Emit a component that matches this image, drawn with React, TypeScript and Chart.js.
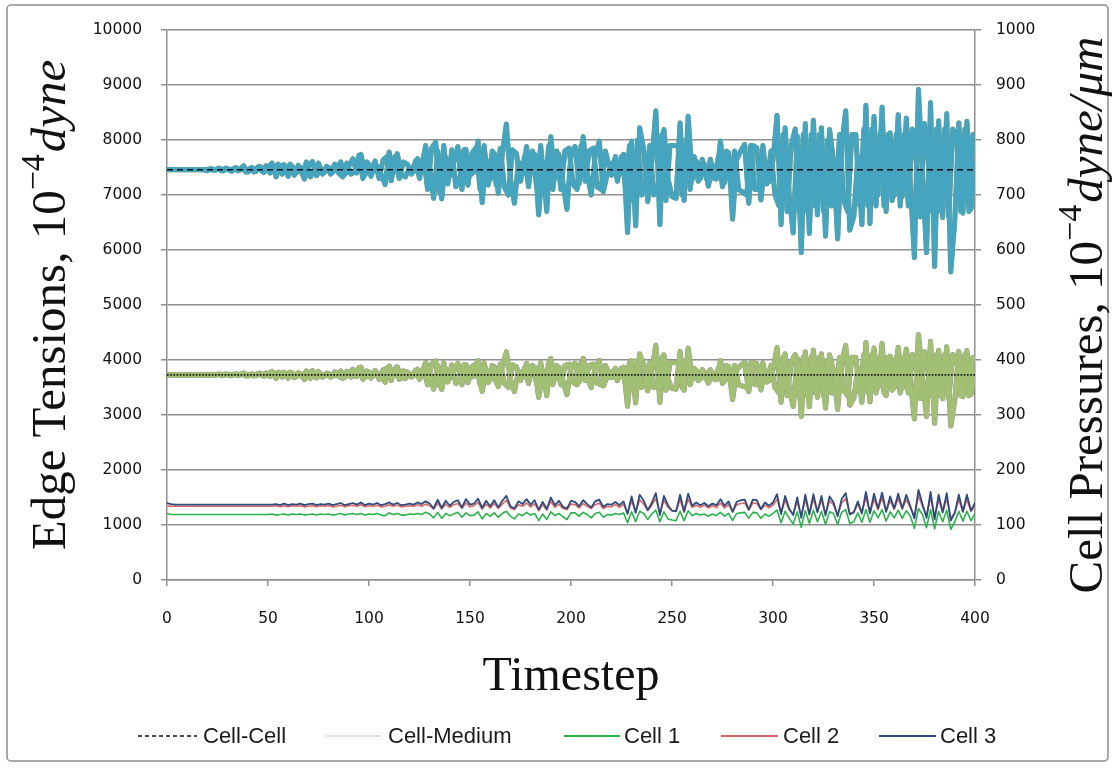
import React, { useEffect, useRef } from "react";
import { Chart, registerables } from "chart.js";

Chart.register(...registerables);

// ---- data ----
const TIMESTEPS: number[] = Array.from({ length: 201 }, (_, i) => i * 2); // 0,2,...,400
const TIMESTEPS_ODD: number[] = Array.from({ length: 200 }, (_, i) => i * 2 + 1); // 1,3,...,399
const X_MIN = 0;
const X_MAX = 400;
const X_STEP = 50;
const LEFT_MAX = 10000;
const LEFT_STEP = 1000;
const RIGHT_MAX = 1000;
const RIGHT_STEP = 100;

const CELL_CELL_LEVEL = 7460;
const CELL_MEDIUM_LEVEL = 3730;

// cell-cell edge tensions, even timesteps
const CELL_CELL_EDGES_A = [
  7460, 7460, 7460, 7460, 7460, 7460, 7460, 7460, 7460, 7460,
  7440, 7480, 7450, 7490, 7440, 7480, 7430, 7500, 7450, 7530,
  7420, 7500, 7430, 7520, 7410, 7500, 7580, 7330, 7520, 7550,
  7340, 7520, 7400, 7500, 7290, 7520, 7610, 7350, 7480, 7420,
  7500, 7410, 7480, 7600, 7370, 7520, 7660, 7400, 7740, 7360,
  7560, 7420, 7520, 7380, 7190, 7780, 7400, 7750, 7360, 7330,
  7500, 7420, 7660, 7460, 7900, 7500, 6940, 7800, 6930, 7680,
  7340, 7600, 7880, 7100, 7830, 7360, 7420, 7980, 6860, 7640,
  7280, 7760, 7030, 7740, 8290, 7300, 6850, 7600, 7380, 7880,
  7420, 7740, 6640, 7600, 6700, 8060, 7300, 7740, 7220, 6740,
  7750, 7880, 7200, 8060, 7400, 7000, 7720, 7980, 7060, 7400,
  7360, 7700, 7380, 7740, 6320, 7980, 6440, 8220, 7820, 6880,
  7600, 8530, 6460, 8190, 7300, 6970, 6940, 8310, 6900, 8430,
  7280, 7620, 7300, 7560, 7160, 7500, 7290, 7980, 7220, 7770,
  6560, 7640, 7800, 7920, 6850, 7900, 7860, 6910, 7590, 7240,
  7640, 8450, 6460, 8220, 7000, 6310, 8070, 5950, 8300, 6300,
  8360, 6640, 8220, 6250, 8190, 7600, 6200, 7900, 8530, 6360,
  6610, 7690, 6460, 8630, 6480, 8430, 7000, 8600, 6700, 8130,
  6990, 8460, 6970, 8400, 7200, 5860, 8920, 7400, 5950, 8680,
  5700, 8350, 6590, 8480, 5600, 6550, 8310, 6670, 8340, 6740,
  7580,
];

// cell-cell edge tensions, odd timesteps
const CELL_CELL_EDGES_B = [
  7460, 7460, 7460, 7460, 7460, 7460, 7460, 7460, 7460, 7460,
  7470, 7450, 7480, 7440, 7490, 7450, 7480, 7440, 7500, 7420,
  7480, 7420, 7510, 7430, 7530, 7400, 7470, 7560, 7380, 7470,
  7560, 7360, 7540, 7380, 7600, 7330, 7460, 7580, 7380, 7520,
  7380, 7560, 7400, 7330, 7580, 7380, 7420, 7720, 7300, 7600,
  7340, 7620, 7300, 7640, 7700, 7260, 7700, 7300, 7600, 7560,
  7380, 7620, 7300, 7700, 7100, 7850, 7960, 7050, 7900, 7200,
  7820, 7150, 7300, 7820, 7180, 7760, 7860, 7100, 7900, 7180,
  7800, 7180, 7850, 7150, 7000, 7820, 7750, 7250, 7700, 7150,
  7800, 7150, 7900, 7050, 7900, 7100, 7800, 7100, 7800, 7850,
  7200, 7100, 7900, 7250, 7800, 7850, 7150, 7100, 7800, 7500,
  7600, 7250, 7700, 7150, 7900, 6900, 8000, 7000, 7200, 7900,
  7000, 7100, 8100, 6900, 7900, 7900, 7900, 7000, 8000, 7100,
  7700, 7250, 7650, 7300, 7650, 7300, 7700, 7150, 7800, 7200,
  7800, 7100, 7050, 7000, 7900, 7100, 7100, 7900, 7200, 7800,
  7000, 6800, 8100, 6700, 7900, 8200, 6700, 8100, 6700, 8100,
  6800, 8100, 6700, 8000, 6800, 6900, 8100, 6900, 6700, 8100,
  8100, 6800, 8200, 6800, 8200, 6800, 8100, 6800, 8100, 6900,
  8100, 6800, 8100, 6800, 8200, 7600, 6600, 8300, 7600, 6700,
  8200, 6700, 8200, 6600, 8200, 8000, 6700, 8200, 6700, 8100,
];

// cell-medium edge tensions, even timesteps
const CELL_MEDIUM_EDGES_A = [
  3730, 3730, 3730, 3730, 3730, 3730, 3730, 3730, 3730, 3730,
  3720, 3740, 3725, 3745, 3720, 3740, 3715, 3750, 3725, 3765,
  3710, 3750, 3715, 3760, 3705, 3750, 3790, 3665, 3760, 3775,
  3670, 3760, 3700, 3750, 3645, 3760, 3805, 3675, 3740, 3710,
  3750, 3705, 3740, 3800, 3685, 3760, 3830, 3700, 3870, 3680,
  3780, 3710, 3760, 3690, 3595, 3890, 3700, 3875, 3680, 3665,
  3750, 3710, 3830, 3730, 3950, 3750, 3470, 3900, 3465, 3840,
  3670, 3800, 3940, 3550, 3915, 3680, 3710, 3990, 3430, 3820,
  3640, 3880, 3515, 3870, 4145, 3650, 3425, 3800, 3690, 3940,
  3710, 3870, 3320, 3800, 3350, 4030, 3650, 3870, 3610, 3370,
  3875, 3940, 3600, 4030, 3700, 3500, 3860, 3990, 3530, 3700,
  3680, 3850, 3690, 3870, 3160, 3990, 3220, 4110, 3910, 3440,
  3800, 4265, 3230, 4095, 3650, 3485, 3470, 4155, 3450, 4215,
  3640, 3810, 3650, 3780, 3580, 3750, 3645, 3990, 3610, 3885,
  3280, 3820, 3900, 3960, 3425, 3950, 3930, 3455, 3795, 3620,
  3820, 4225, 3230, 4110, 3500, 3155, 4035, 2975, 4150, 3150,
  4180, 3320, 4110, 3125, 4095, 3800, 3100, 3950, 4265, 3180,
  3305, 3845, 3230, 4315, 3240, 4215, 3500, 4300, 3350, 4065,
  3495, 4230, 3485, 4200, 3600, 2930, 4460, 3700, 2975, 4340,
  2850, 4175, 3295, 4240, 2800, 3275, 4155, 3335, 4170, 3370,
  3790,
];

// cell-medium edge tensions, odd timesteps
const CELL_MEDIUM_EDGES_B = [
  3730, 3730, 3730, 3730, 3730, 3730, 3730, 3730, 3730, 3730,
  3735, 3725, 3740, 3720, 3745, 3725, 3740, 3720, 3750, 3710,
  3740, 3710, 3755, 3715, 3765, 3700, 3735, 3780, 3690, 3735,
  3780, 3680, 3770, 3690, 3800, 3665, 3730, 3790, 3690, 3760,
  3690, 3780, 3700, 3665, 3790, 3690, 3710, 3860, 3650, 3800,
  3670, 3810, 3650, 3820, 3850, 3630, 3850, 3650, 3800, 3780,
  3690, 3810, 3650, 3850, 3550, 3925, 3980, 3525, 3950, 3600,
  3910, 3575, 3650, 3910, 3590, 3880, 3930, 3550, 3950, 3590,
  3900, 3590, 3925, 3575, 3500, 3910, 3875, 3625, 3850, 3575,
  3900, 3575, 3950, 3525, 3950, 3550, 3900, 3550, 3900, 3925,
  3600, 3550, 3950, 3625, 3900, 3925, 3575, 3550, 3900, 3750,
  3800, 3625, 3850, 3575, 3950, 3450, 4000, 3500, 3600, 3950,
  3500, 3550, 4050, 3450, 3950, 3950, 3950, 3500, 4000, 3550,
  3850, 3625, 3825, 3650, 3825, 3650, 3850, 3575, 3900, 3600,
  3900, 3550, 3525, 3500, 3950, 3550, 3550, 3950, 3600, 3900,
  3500, 3400, 4050, 3350, 3950, 4100, 3350, 4050, 3350, 4050,
  3400, 4050, 3350, 4000, 3400, 3450, 4050, 3450, 3350, 4050,
  4050, 3400, 4100, 3400, 4100, 3400, 4050, 3400, 4050, 3450,
  4050, 3400, 4050, 3400, 4100, 3800, 3300, 4150, 3800, 3350,
  4100, 3350, 4100, 3300, 4100, 4000, 3350, 4100, 3350, 4050,
];

const CELL_1 = [
  121, 119, 119, 119, 119, 119, 119, 119, 119, 119,
  119, 119, 119, 119, 119, 119, 119, 119, 119, 119,
  119, 119, 119, 119, 119, 119, 120, 118, 119, 120,
  118, 120, 119, 120, 118, 119, 120, 118, 120, 119,
  120, 118, 119, 121, 118, 120, 121, 119, 121, 118,
  120, 119, 121, 118, 117, 122, 119, 121, 118, 118,
  120, 119, 121, 119, 123, 120, 113, 123, 112, 121,
  117, 120, 123, 114, 122, 117, 118, 124, 111, 121,
  116, 122, 114, 121, 125, 116, 111, 120, 117, 123,
  118, 121, 108, 120, 110, 124, 117, 121, 115, 110,
  122, 122, 116, 123, 119, 113, 121, 123, 114, 119,
  118, 121, 119, 122, 104, 124, 106, 125, 121, 110,
  120, 127, 106, 124, 111, 109, 108, 125, 108, 126,
  117, 121, 118, 120, 116, 120, 117, 123, 116, 121,
  108, 121, 122, 123, 112, 123, 122, 112, 120, 116,
  121, 127, 104, 125, 112, 102, 124, 96, 126, 103,
  127, 106, 125, 101, 124, 121, 101, 123, 128, 103,
  106, 122, 105, 128, 105, 126, 113, 128, 107, 124,
  113, 127, 112, 126, 116, 94, 130, 119, 95, 128,
  93, 125, 106, 127, 92, 106, 125, 107, 125, 108,
  121,
];

const CELL_2 = [
  135, 134, 134, 134, 134, 134, 134, 134, 134, 134,
  134, 134, 134, 134, 134, 134, 134, 134, 134, 134,
  134, 134, 134, 134, 134, 134, 134, 135, 133, 135,
  133, 135, 134, 135, 133, 134, 135, 133, 135, 134,
  135, 133, 134, 136, 133, 135, 136, 134, 137, 133,
  135, 134, 136, 133, 134, 137, 134, 136, 133, 134,
  135, 134, 137, 134, 138, 135, 129, 140, 129, 138,
  132, 137, 139, 130, 140, 133, 135, 141, 129, 138,
  131, 139, 130, 138, 145, 131, 128, 137, 134, 140,
  133, 139, 126, 137, 127, 143, 132, 138, 130, 128,
  138, 137, 131, 139, 134, 130, 137, 140, 130, 134,
  133, 137, 132, 138, 122, 144, 123, 146, 138, 126,
  136, 148, 121, 145, 132, 126, 125, 146, 124, 147,
  132, 136, 132, 136, 131, 135, 132, 140, 131, 137,
  124, 137, 139, 140, 127, 140, 139, 128, 136, 131,
  136, 147, 122, 145, 128, 120, 142, 117, 146, 121,
  147, 124, 145, 120, 144, 136, 119, 140, 148, 121,
  124, 138, 122, 150, 122, 147, 128, 149, 125, 144,
  129, 148, 129, 146, 131, 116, 153, 134, 117, 150,
  115, 146, 123, 148, 113, 122, 146, 124, 146, 125,
  134,
];

const CELL_3 = [
  140, 138, 137, 137, 137, 137, 137, 137, 137, 137,
  137, 137, 137, 137, 137, 137, 137, 137, 137, 137,
  137, 137, 137, 137, 137, 137, 137, 138, 136, 139,
  136, 138, 137, 139, 136, 138, 139, 136, 138, 137,
  139, 136, 138, 140, 136, 138, 140, 137, 141, 136,
  139, 137, 140, 136, 138, 141, 137, 140, 136, 137,
  139, 137, 141, 138, 143, 139, 130, 146, 131, 144,
  135, 142, 145, 132, 147, 137, 139, 148, 131, 144,
  134, 145, 132, 144, 153, 134, 130, 143, 138, 147,
  137, 145, 128, 142, 129, 150, 136, 144, 133, 130,
  144, 142, 134, 145, 138, 132, 143, 146, 133, 138,
  137, 142, 136, 143, 120, 152, 122, 155, 144, 127,
  140, 158, 118, 153, 136, 126, 125, 155, 124, 157,
  135, 141, 136, 140, 134, 139, 136, 147, 135, 143,
  124, 142, 145, 146, 128, 146, 145, 129, 141, 135,
  141, 156, 120, 153, 130, 118, 150, 113, 155, 119,
  156, 123, 153, 117, 152, 141, 116, 147, 158, 119,
  123, 143, 121, 160, 121, 157, 130, 159, 124, 152,
  130, 157, 130, 155, 134, 112, 164, 138, 113, 160,
  110, 155, 123, 158, 108, 122, 155, 124, 155, 126,
  140,
];

const LEGEND_LABELS = ["Cell-Cell", "Cell-Medium", "Cell 1", "Cell 2", "Cell 3"];
const X_TITLE = "Timestep";
const LEFT_TITLE = ["Edge Tensions, 10", "\u22124", "dyne"];
const RIGHT_TITLE = ["Cell Pressures, 10", "\u22124", "dyne/\u03bcm"];

// ---- styles ----
const C_TEAL = "#45a4c0";
const C_TEAL_EDGE = "#7fa37a";
const C_OLIVE = "#a2c074";
const C_OLIVE_EDGE = "#928a8e";
const C_CELL1 = "#2bb24c";
const C_CELL2 = "#dc6762";
const C_CELL3 = "#2f4b7e";
const GRID = "#8f8f8f";
const SERIF = '"Liberation Serif", "DejaVu Serif", serif';
const SANS = '"Liberation Sans", Arial, sans-serif';
const TICK_FONT = { family: '"DejaVu Sans", sans-serif', size: 15.5 };

const pts = (xs: number[], vals: number[]) => vals.map((v, i) => ({ x: xs[i], y: v }));
const level = (v: number) => [
  { x: TIMESTEPS[0], y: v },
  { x: TIMESTEPS[TIMESTEPS.length - 1], y: v },
];

function drawParts(ctx: CanvasRenderingContext2D, parts: string[], size: number) {
  const fonts = [
    `${size}px ${SERIF}`,
    `${Math.round(size * 0.7)}px ${SERIF}`,
    `italic ${size}px ${SERIF}`,
  ];
  const offs = [0, -size * 0.42, 0];
  const widths = parts.map((p, i) => {
    ctx.font = fonts[i];
    return ctx.measureText(p).width;
  });
  const total = widths.reduce((a, b) => a + b, 0) + 2;
  let x = -total / 2;
  parts.forEach((p, i) => {
    ctx.font = fonts[i];
    ctx.fillText(p, x, offs[i]);
    x += widths[i] + (i === 1 ? 2 : 0);
  });
}

const decorPlugin = {
  id: "decor",
  beforeDraw(chart: any) {
    const { ctx, width, height } = chart;
    ctx.save();
    ctx.fillStyle = "#ffffff";
    ctx.fillRect(0, 0, width, height);
    ctx.strokeStyle = "#8c8c8c";
    ctx.lineWidth = 1.5;
    ctx.beginPath();
    (ctx as any).roundRect(7, 5, 1101, 756, 4);
    ctx.stroke();
    ctx.restore();
  },
  afterDraw(chart: any) {
    const ctx: CanvasRenderingContext2D = chart.ctx;
    ctx.save();
    ctx.fillStyle = "#111";
    ctx.textBaseline = "alphabetic";
    ctx.textAlign = "left";
    // x title
    ctx.font = `48px ${SERIF}`;
    const tw = ctx.measureText(X_TITLE).width;
    ctx.fillText(X_TITLE, 571 - tw / 2, 690);
    // left title
    ctx.save();
    ctx.translate(65, 305);
    ctx.rotate(-Math.PI / 2);
    drawParts(ctx, LEFT_TITLE, 49);
    ctx.restore();
    // right title
    ctx.save();
    ctx.translate(1102, 315);
    ctx.rotate(-Math.PI / 2);
    drawParts(ctx, RIGHT_TITLE, 49);
    ctx.restore();

    // legend
    const y = 736;
    const items = [
      { x1: 138, x2: 197, tx: 203, color: "#111", dash: [4, 3], w: 1.5 },
      { x1: 326, x2: 382, tx: 388, color: "#9a9a9a", dash: [1, 1], w: 1.2 },
      { x1: 564, x2: 620, tx: 624, color: C_CELL1, dash: [], w: 2 },
      { x1: 721, x2: 778, tx: 783, color: C_CELL2, dash: [], w: 2 },
      { x1: 879, x2: 936, tx: 940, color: C_CELL3, dash: [], w: 2 },
    ];
    ctx.font = `22px ${SANS}`;
    ctx.textBaseline = "middle";
    items.forEach((it, i) => {
      ctx.beginPath();
      ctx.setLineDash(it.dash);
      ctx.strokeStyle = it.color;
      ctx.lineWidth = it.w;
      ctx.moveTo(it.x1, y);
      ctx.lineTo(it.x2, y);
      ctx.stroke();
      ctx.setLineDash([]);
      ctx.fillStyle = "#1a1a1a";
      ctx.fillText(LEGEND_LABELS[i], it.tx, y + 1);
    });
    ctx.restore();
  },
};

export default function App() {
  const ref = useRef<HTMLCanvasElement | null>(null);

  useEffect(() => {
    if (!ref.current) return;
    const line = (extra: any) => ({
      pointRadius: 0,
      pointHoverRadius: 0,
      tension: 0,
      fill: false,
      borderJoinStyle: "round",
      borderCapStyle: "round",
      ...extra,
    });
    const chart = new Chart(ref.current, {
      type: "line",
      data: {
        datasets: [
          line({ label: LEGEND_LABELS[0], data: level(CELL_CELL_LEVEL), yAxisID: "y", borderColor: "#111", borderWidth: 1.6, borderDash: [6, 4], borderCapStyle: "butt", order: 0 }),
          line({ label: LEGEND_LABELS[1], data: level(CELL_MEDIUM_LEVEL), yAxisID: "y", borderColor: "#111", borderWidth: 1.8, borderDash: [1.6, 1.6], borderCapStyle: "butt", order: 0 }),
          line({ label: LEGEND_LABELS[4], data: pts(TIMESTEPS, CELL_3), yAxisID: "y2", borderColor: C_CELL3, borderWidth: 1.8, order: 1 }),
          line({ label: LEGEND_LABELS[3], data: pts(TIMESTEPS, CELL_2), yAxisID: "y2", borderColor: C_CELL2, borderWidth: 1.6, order: 2 }),
          line({ label: LEGEND_LABELS[2], data: pts(TIMESTEPS, CELL_1), yAxisID: "y2", borderColor: C_CELL1, borderWidth: 1.6, order: 3 }),
          line({ label: "Cell-Cell edge A", data: pts(TIMESTEPS, CELL_CELL_EDGES_A), yAxisID: "y", borderColor: C_TEAL, borderWidth: 4.6, order: 4 }),
          line({ label: "Cell-Cell edge B", data: pts(TIMESTEPS_ODD, CELL_CELL_EDGES_B), yAxisID: "y", borderColor: C_TEAL, borderWidth: 4.6, order: 4 }),
          line({ label: "Cell-Cell edge A rim", data: pts(TIMESTEPS, CELL_CELL_EDGES_A), yAxisID: "y", borderColor: C_TEAL_EDGE, borderWidth: 5.2, order: 5 }),
          line({ label: "Cell-Cell edge B rim", data: pts(TIMESTEPS_ODD, CELL_CELL_EDGES_B), yAxisID: "y", borderColor: C_TEAL_EDGE, borderWidth: 5.2, order: 5 }),
          line({ label: "Cell-Medium edge A", data: pts(TIMESTEPS, CELL_MEDIUM_EDGES_A), yAxisID: "y", borderColor: C_OLIVE, borderWidth: 4.6, order: 6 }),
          line({ label: "Cell-Medium edge B", data: pts(TIMESTEPS_ODD, CELL_MEDIUM_EDGES_B), yAxisID: "y", borderColor: C_OLIVE, borderWidth: 4.6, order: 6 }),
          line({ label: "Cell-Medium edge A rim", data: pts(TIMESTEPS, CELL_MEDIUM_EDGES_A), yAxisID: "y", borderColor: C_OLIVE_EDGE, borderWidth: 5.2, order: 7 }),
          line({ label: "Cell-Medium edge B rim", data: pts(TIMESTEPS_ODD, CELL_MEDIUM_EDGES_B), yAxisID: "y", borderColor: C_OLIVE_EDGE, borderWidth: 5.2, order: 7 }),
        ],
      },
      options: {
        animation: false,
        responsive: false,
        events: [],
        layout: { padding: { top: 30, left: 0, right: 0, bottom: 0 } },
        plugins: { legend: { display: false }, tooltip: { enabled: false }, title: { display: false } },
        scales: {
          x: {
            type: "linear",
            min: X_MIN,
            max: X_MAX,
            ticks: { stepSize: X_STEP, padding: 24, color: "#111", font: TICK_FONT, maxRotation: 0, callback: (v: any) => String(v) },
            grid: { drawOnChartArea: false, drawTicks: true, tickLength: 6, color: GRID, lineWidth: 1.5 },
            border: { display: true, color: GRID, width: 1.5 },
            afterFit: (s: any) => { s.height = 189; },
          },
          y: {
            position: "left",
            min: 0,
            max: LEFT_MAX,
            ticks: { stepSize: LEFT_STEP, padding: 19, color: "#111", font: TICK_FONT, callback: (v: any) => String(v) },
            grid: { drawOnChartArea: true, drawTicks: true, tickLength: 6, color: GRID, lineWidth: 1.5 },
            border: { display: true, color: GRID, width: 1.5 },
            afterFit: (s: any) => { s.width = 167; },
          },
          y2: {
            position: "right",
            min: 0,
            max: RIGHT_MAX,
            ticks: { stepSize: RIGHT_STEP, padding: 15, color: "#111", font: TICK_FONT, callback: (v: any) => String(v) },
            grid: { drawOnChartArea: false, drawTicks: true, tickLength: 6, color: GRID, lineWidth: 1.5 },
            border: { display: true, color: GRID, width: 1.5 },
            afterFit: (s: any) => { s.width = 1118 - 975; },
          },
        },
      } as any,
      plugins: [decorPlugin],
    });
    return () => chart.destroy();
  }, []);

  return (
    <div style={{ position: "fixed", left: 0, top: 0, width: 1118, height: 769, overflow: "hidden", background: "#fff" }}>
      <canvas ref={ref} width={1118} height={769} style={{ display: "block" }} />
    </div>
  );
}
